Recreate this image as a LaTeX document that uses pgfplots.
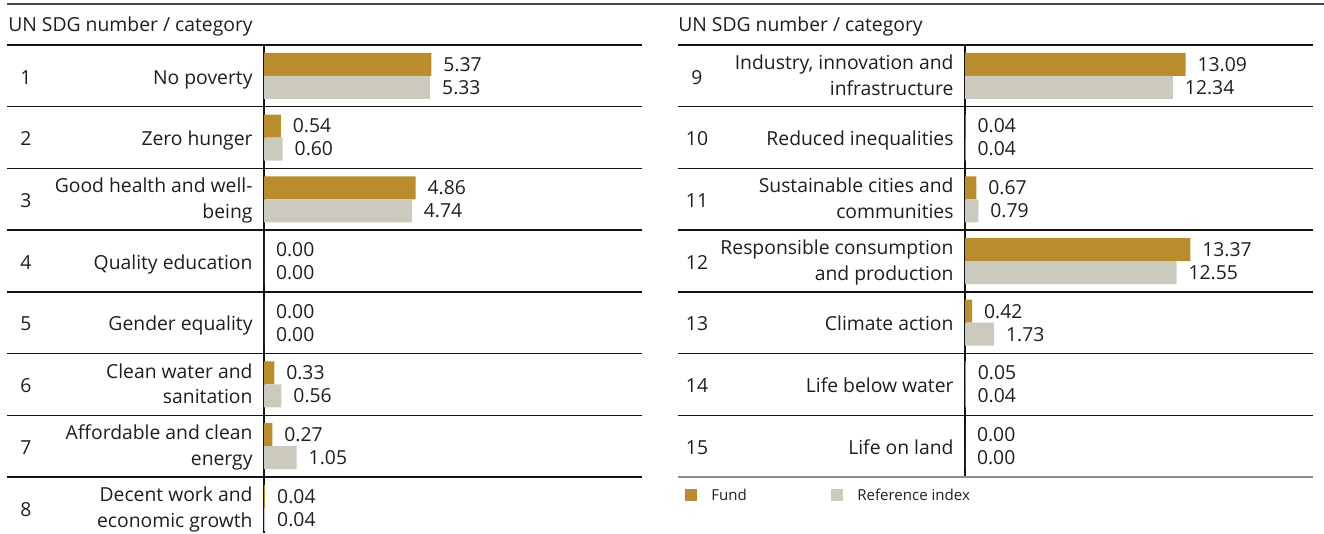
\documentclass[border=0pt]{standalone}
\usepackage{fontspec}
\setmainfont{Open Sans}
\usepackage{pgfplots}
\pgfplotsset{compat=1.18}
\definecolor{fund}{RGB}{185,141,46}
\definecolor{refc}{RGB}{204,202,190}
\definecolor{txt}{RGB}{30,30,30}
\definecolor{rulec}{RGB}{20,20,20}
\definecolor{topc}{RGB}{70,70,70}
\definecolor{botc}{RGB}{140,140,140}
\newcommand\lab{\fontsize{14.5pt}{19.3pt}\selectfont}
\newcommand\leg{\fontsize{11.3pt}{14pt}\selectfont}
\pgfplotsset{sdg/.style={
  scale only axis, anchor=north west, enlargelimits=false, clip=false,
  y dir=reverse, hide x axis, axis y line*=left,
  y axis line style={draw=rulec, line width=1.1pt, -},
  major tick length=0pt,
  xbar, bar width=17.25pt,
  point meta=x,
  nodes near coords={\pgfmathprintnumber[fixed,fixed zerofill,precision=2,assume math mode=true]{\pgfplotspointmeta}},
  every node near coord/.append style={anchor=west, inner sep=0pt, xshift=8.8pt, font=\lab, text=txt},
  yticklabel style={anchor=east, align=right, inner sep=0pt, xshift=-8.4pt, yshift=-2.3pt, font=\lab, text=txt,
    execute at begin node=\strut, execute at end node=\strut},
}}
\begin{document}
\begin{tikzpicture}
\path[use as bounding box] (0,0) rectangle (993pt,-399.75pt);
% left panel
\begin{axis}[sdg, at={(198pt,-33.75pt)}, width=283.5pt, height=366pt,
  xmin=0, xmax=12.12, ymin=0.5, ymax=8.408,
  ytick={1,2,3,4,5,6,7,8},
  yticklabels={{No poverty},{Zero hunger},{Good health and well-\\being},{Quality education},{Gender equality},{Clean water and\\sanitation},{Affordable and clean\\energy},{Decent work and\\economic growth}}]
\addplot[fill=fund, draw=none, bar shift=8.625pt] coordinates {(5.37,1) (0.54,2) (4.86,3) (0.00,4) (0.00,5) (0.33,6) (0.27,7) (0.04,8)};
\addplot[fill=refc, draw=none, bar shift=-8.625pt] coordinates {(5.33,1) (0.60,2) (4.74,3) (0.00,4) (0.00,5) (0.56,6) (1.05,7) (0.04,8)};
\end{axis}
% right panel
\begin{axis}[sdg, at={(723.75pt,-33.75pt)}, width=261pt, height=324pt,
  xmin=0, xmax=20.65, ymin=8.5, ymax=15.5,
  ytick={9,10,11,12,13,14,15},
  yticklabels={{Industry, innovation and\\infrastructure},{Reduced inequalities},{Sustainable cities and\\communities},{Responsible consumption\\and production},{Climate action},{Life below water},{Life on land}}]
\addplot[fill=fund, draw=none, bar shift=8.625pt] coordinates {(13.09,9) (0.04,10) (0.67,11) (13.37,12) (0.42,13) (0.05,14) (0.00,15)};
\addplot[fill=refc, draw=none, bar shift=-8.625pt] coordinates {(12.34,9) (0.04,10) (0.79,11) (12.55,12) (1.73,13) (0.04,14) (0.00,15)};
\end{axis}
% decorations in pixel units
\begin{scope}[x=0.75pt, y=-0.75pt]
\draw[topc, line width=1.1pt] (7,4) -- (1324,4);
\node[anchor=base west, inner sep=0pt, font=\lab, text=txt] at (8,31.7) {UN SDG number / category};
\node[anchor=base west, inner sep=0pt, font=\lab, text=txt] at (678,31.7) {UN SDG number / category};
\foreach \k in {0,...,7} {\draw[rulec, line width=1.1pt] (7,45+61.714*\k) -- (642,45+61.714*\k);}
\foreach \k in {0,...,6} {\draw[rulec, line width=1.1pt] (678,45+61.714*\k) -- (1313,45+61.714*\k);}
\draw[botc, line width=1.5pt] (678,477) -- (1313,477);
\foreach \n [count=\k from 0] in {1,...,8} {\node[anchor=base, inner sep=0pt, font=\lab, text=txt] at (26,84+61.714*\k) {\n};}
\foreach \n [count=\k from 0] in {9,...,15} {\node[anchor=base, inner sep=0pt, font=\lab, text=txt] at (697,84+61.714*\k) {\n};}
\fill[fund] (685,489) rectangle (697,501);
\node[anchor=base west, inner sep=0pt, font=\leg, text=txt] at (711,500.7) {Fund};
\fill[refc] (831,489) rectangle (843,501);
\node[anchor=base west, inner sep=0pt, font=\leg, text=txt] at (857,500.7) {Reference index};
\end{scope}
\end{tikzpicture}
\end{document}
